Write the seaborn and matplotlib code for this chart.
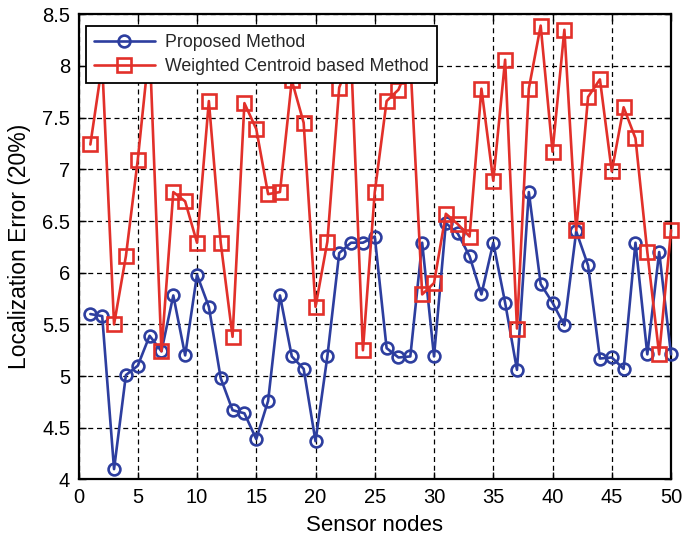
import matplotlib
matplotlib.use("Agg")
import matplotlib.pyplot as plt
import seaborn as sns
import pandas as pd

sensor_nodes = list(range(1, 51))

proposed = [5.60, 5.58, 4.10, 5.01, 5.10, 5.39, 5.24, 5.78, 5.20, 5.98,
            5.67, 4.98, 4.67, 4.64, 4.39, 4.76, 5.78, 5.19, 5.07, 4.37,
            5.19, 6.19, 6.29, 6.29, 6.35, 5.27, 5.18, 5.19, 6.29, 5.19,
            6.48, 6.38, 6.16, 5.79, 6.29, 5.71, 5.06, 6.78, 5.89, 5.71,
            5.49, 6.40, 6.07, 5.17, 5.18, 5.07, 6.29, 5.21, 6.20, 5.21]

weighted_centroid = [7.24, 8.02, 5.50, 6.16, 7.09, 8.20, 5.24, 6.78, 6.69, 6.29,
                     7.66, 6.29, 5.38, 7.64, 7.39, 6.76, 6.78, 7.86, 7.45, 5.67,
                     6.30, 7.79, 8.10, 5.25, 6.78, 7.66, 7.77, 8.05, 5.79, 5.90,
                     6.57, 6.47, 6.35, 7.78, 6.89, 8.06, 5.46, 7.78, 8.39, 7.17,
                     8.35, 6.41, 7.70, 7.87, 6.98, 7.60, 7.30, 6.20, 5.21, 6.41]

series_names = ["Proposed Method", "Weighted Centroid based Method"]
x_ticks = [0, 5, 10, 15, 20, 25, 30, 35, 40, 45, 50]
y_ticks = [4, 4.5, 5, 5.5, 6, 6.5, 7, 7.5, 8, 8.5]
y_tick_labels = ["4", "4.5", "5", "5.5", "6", "6.5", "7", "7.5", "8", "8.5"]

df_prop = pd.DataFrame({"node": sensor_nodes, "error": proposed})
df_wc = pd.DataFrame({"node": sensor_nodes, "error": weighted_centroid})

sns.set_theme(style="white")
plt.rcParams["font.family"] = ["Liberation Sans", "DejaVu Sans"]

fig = plt.figure(figsize=(6.85, 5.43), dpi=100)
ax = fig.add_axes([0.1146, 0.1170, 0.8650, 0.8568])

blue = "#2D3E9F"
red = "#E2302A"

sns.lineplot(data=df_prop, x="node", y="error", ax=ax, color=blue,
             marker="o", markersize=8.5, markerfacecolor="none",
             markeredgecolor=blue, markeredgewidth=1.9, linewidth=1.9,
             label=series_names[0], clip_on=False, zorder=3)
sns.lineplot(data=df_wc, x="node", y="error", ax=ax, color=red,
             marker="s", markersize=9.5, markerfacecolor="none",
             markeredgecolor=red, markeredgewidth=1.9, linewidth=1.9,
             label=series_names[1], clip_on=False, zorder=4)

ax.set_xlim(0, 50)
ax.set_ylim(4, 8.5)
ax.set_xticks(x_ticks)
ax.set_yticks(y_ticks)
ax.set_yticklabels(y_tick_labels)

ax.grid(True, color="black", linestyle=(0, (4, 3)), linewidth=0.9)
ax.set_axisbelow(True)

for s in ax.spines.values():
    s.set_visible(True)
    s.set_color("black")
    s.set_linewidth(1.6)
    s.set_zorder(2.5)

ax.tick_params(axis="both", which="both", direction="in", length=5,
               width=1.0, colors="black", labelsize=14.5,
               top=True, right=True, bottom=True, left=True, pad=6)

ax.set_xlabel("Sensor nodes", fontsize=16, color="black", labelpad=6)
ax.set_ylabel("Localization Error (20%)", fontsize=16.5, color="black", labelpad=8)

leg = ax.legend(loc="upper left", bbox_to_anchor=(0.013, 0.975),
                fontsize=12.8, frameon=True, fancybox=False,
                edgecolor="black", framealpha=1, handlelength=3.4,
                borderpad=0.45, labelspacing=0.4, handletextpad=0.6,
                borderaxespad=0)
leg.get_frame().set_linewidth(1.3)
leg.set_zorder(10)

fig.savefig("out.png", dpi=100)
